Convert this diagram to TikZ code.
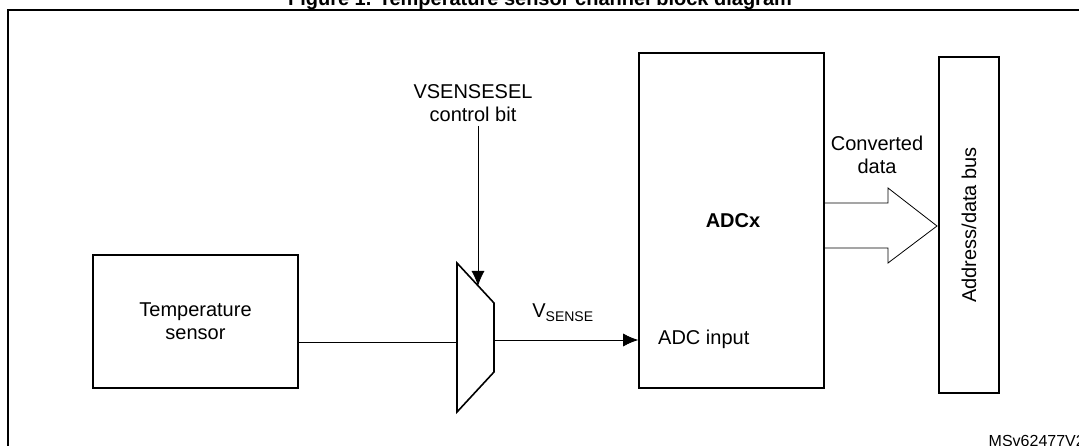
\documentclass[tikz,border=0pt]{standalone}
\usepackage{fontspec}
\setmainfont{Liberation Sans}
\usetikzlibrary{arrows.meta}
\begin{document}
\begin{tikzpicture}[x=1pt,y=-1pt,
  box/.style={draw,line width=1.6pt},
  wire/.style={line width=0.8pt},
  lab/.style={font=\fontsize{20}{23}\selectfont,align=center,inner sep=0pt},
  tip/.style={-{Latex[length=15pt,width=13pt]}}]
\useasboundingbox (0,0) rectangle (1079,446);
\begin{scope}
\clip (0,0) rectangle (1079,446);
\node[lab,font=\bfseries\fontsize{20}{23}\selectfont,anchor=base] (title) at (540,6) {Figure 1. Temperature sensor channel block diagram};
\draw[line width=1.6pt] (8,460) -- (8,10) -- (1090,10);
\node[lab,anchor=base east] (ms) at (1085,446) {\fontsize{16}{18}\selectfont MSv62477V2};
\end{scope}
\node[box,minimum width=205,minimum height=133,inner sep=0pt] (ts) at (195.5,321.5) {};
\node[lab] at (ts.center) {Temperature\\sensor};
\draw[line width=1.6pt] (457,263) coordinate (m1) -- (494,303) -- (494,372) -- (457,412) -- cycle;
\coordinate (min) at (457,342);
\coordinate (mout) at (494,340);
\coordinate (mtop) at (478,286);
\node[box,minimum width=185,minimum height=335,inner sep=0pt] (adc) at (731.5,220.5) {};
\node[lab,font=\bfseries\fontsize{20}{23}\selectfont] at (733,221) {ADCx};
\node[lab,anchor=west] (ain) at (658,339) {ADC input};
\coordinate (adcin) at (adc.west |- mout);
\node[box,minimum width=60,minimum height=336,inner sep=0pt] (bus) at (969,225) {};
\node[lab,rotate=90] at (bus.center) {Address/data bus};
\node[lab] (sel) at (473,103) {VSENSESEL\\control bit};
\draw[wire] (ts.east |- min) -- (min);
\draw[wire,tip] (sel.south -| mtop) ++(0,4) -- (mtop);
\draw[wire,tip] (mout) -- (adcin);
\node[lab,anchor=base] (vs) at (563,318) {V\textsubscript{\fontsize{14}{15}\selectfont SENSE}};
\draw[wire,line join=miter] (adc.east |- 0,203) -- (888,203) -- (888,188) -- (937,226) -- (888,263) -- (888,248) -- (adc.east |- 0,248);
\node[lab] (cd) at (877,155) {Converted\\data};
\end{tikzpicture}
\end{document}
